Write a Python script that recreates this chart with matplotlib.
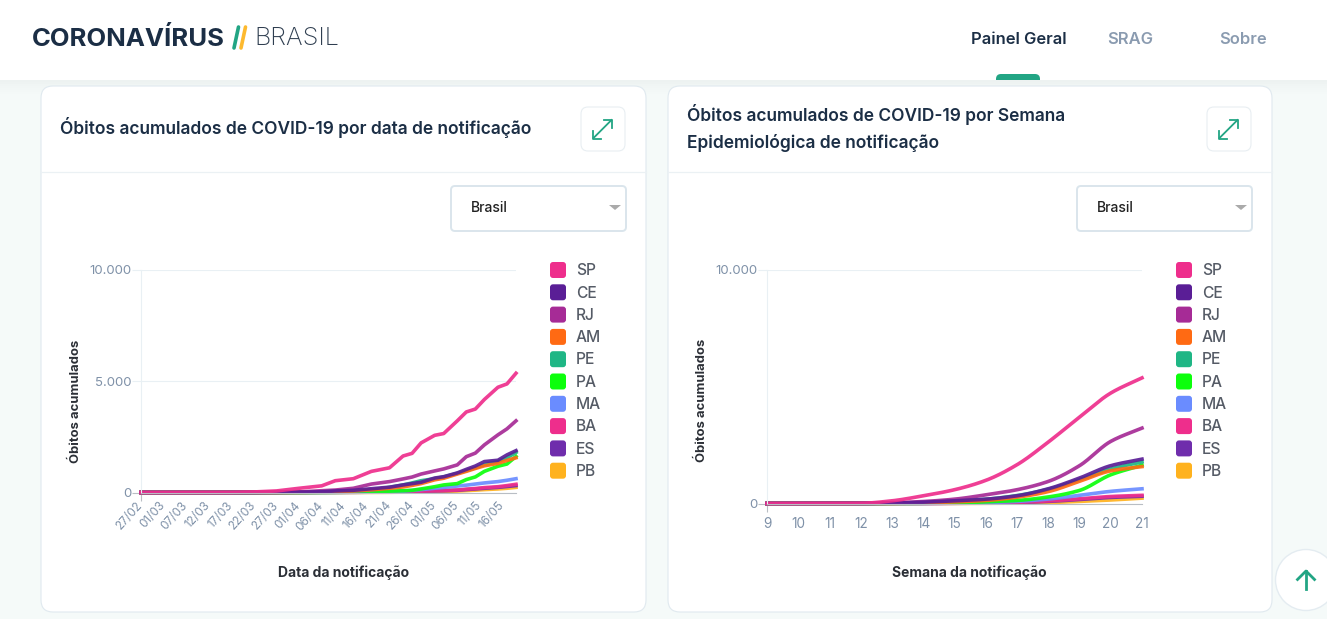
#!/usr/bin/env python3
"""Painel Coronavirus Brasil: obitos acumulados por data e por semana."""
import numpy as np
import matplotlib as mpl
mpl.use("Agg")
import matplotlib.pyplot as plt
from matplotlib.patches import FancyBboxPatch, Circle, Rectangle
from matplotlib.transforms import ScaledTranslation

mpl.rcParams.update({"font.family": ["Inter", "DejaVu Sans"], "font.size": 10})

W, H = 1327, 619

STATES = ["SP", "CE", "RJ", "AM", "PE", "PA", "MA", "BA", "ES", "PB"]
COLORS = ["#EE2E8C", "#5A1E96", "#A62B96", "#FF6A13", "#1FB685",
          "#0CFF0C", "#6A8CFF", "#EE2E8C", "#6F2DAC", "#FFB21E"]

# left chart: day index along the category axis
DAY_TICKS = ["27/02", "01/03", "07/03", "12/03", "17/03", "22/03", "27/03", "01/04", "06/04",
             "11/04", "16/04", "21/04", "26/04", "01/05", "06/05", "11/05", "16/05"]
DAY_IDX = [0, 20, 25, 30, 35, 40, 43, 47, 51, 55, 58, 60, 62, 65, 67, 70, 72, 74, 76, 79, 81, 83]
DAILY = {
    "SP": [0, 3, 25, 70, 190, 300, 530, 620, 950, 1110, 1640, 1760, 2230, 2570, 2650, 3220, 3620, 3750, 4180, 4730, 4880, 5360],
    "CE": [0, 0, 2, 8, 15, 30, 70, 100, 170, 240, 340, 400, 460, 650, 710, 880, 1040, 1190, 1390, 1450, 1690, 1880],
    "RJ": [0, 0, 2, 8, 25, 80, 110, 190, 380, 490, 610, 695, 830, 970, 1060, 1240, 1610, 1770, 2140, 2590, 2860, 3220],
    "AM": [0, 0, 0, 2, 6, 15, 40, 70, 120, 190, 250, 320, 400, 570, 640, 830, 950, 1080, 1200, 1310, 1440, 1560],
    "PE": [0, 0, 0, 2, 6, 14, 25, 40, 110, 230, 340, 430, 530, 620, 700, 860, 980, 1110, 1250, 1390, 1560, 1800],
    "PA": [0, 0, 0, 0, 1, 4, 8, 15, 35, 60, 80, 100, 160, 260, 340, 400, 580, 700, 950, 1180, 1280, 1620],
    "MA": [0, 0, 0, 0, 1, 3, 6, 10, 15, 35, 60, 90, 130, 190, 230, 290, 330, 380, 430, 490, 550, 620],
    "BA": [0, 0, 0, 2, 5, 10, 12, 15, 20, 30, 40, 50, 60, 80, 90, 110, 150, 180, 220, 260, 310, 370],
    "ES": [0, 0, 0, 1, 3, 6, 8, 10, 15, 25, 35, 45, 55, 70, 80, 100, 130, 160, 190, 230, 270, 310],
    "PB": [0, 0, 0, 0, 0, 1, 2, 3, 6, 10, 15, 20, 28, 40, 50, 65, 85, 105, 130, 160, 190, 230],
}

# right chart: epidemiological weeks
WEEKS = [9, 10, 11, 12, 13, 14, 15, 16, 17, 18, 19, 20, 21]
WEEKLY = {
    "SP": [0, 0, 0, 8, 115, 330, 590, 990, 1660, 2630, 3700, 4730, 5380],
    "CE": [0, 0, 0, 1, 15, 55, 115, 185, 330, 630, 1090, 1620, 1900],
    "RJ": [0, 0, 0, 2, 30, 85, 185, 370, 590, 945, 1620, 2660, 3230],
    "AM": [0, 0, 0, 0, 5, 30, 70, 130, 270, 510, 950, 1400, 1580],
    "PE": [0, 0, 0, 0, 8, 40, 100, 180, 340, 610, 1020, 1480, 1780],
    "PA": [0, 0, 0, 0, 2, 8, 25, 70, 130, 280, 560, 1230, 1640],
    "MA": [0, 0, 0, 0, 1, 5, 15, 40, 90, 190, 350, 520, 630],
    "BA": [0, 0, 0, 0, 1, 5, 10, 20, 50, 110, 200, 300, 350],
    "ES": [0, 0, 0, 0, 1, 3, 8, 15, 40, 90, 170, 260, 310],
    "PB": [0, 0, 0, 0, 0, 1, 4, 8, 15, 40, 90, 150, 230],
}

INK = "#1B2E45"
MUTED = "#8A9BB0"
TICK_TXT = "#7F91A8"
GREEN = "#22A584"
BORDER = "#E0E9EF"
GRID = "#E9F0F4"


def monotone(x, y, per=24):
    # monotone cubic, same idea as the d3 curve the dashboard uses
    x, y = np.asarray(x, float), np.asarray(y, float)
    h = np.diff(x)
    s = np.diff(y) / h
    m = np.zeros_like(y)
    m[0], m[-1] = s[0], s[-1]
    for i in range(1, len(x) - 1):
        if s[i - 1] * s[i] > 0:
            m[i] = 2 * s[i - 1] * s[i] / (s[i - 1] + s[i])
    xs, ys = [], []
    for i in range(len(h)):
        t = np.linspace(0, 1, per)
        xs.append(x[i] + t * h[i])
        ys.append((2*t**3 - 3*t**2 + 1) * y[i] + (t**3 - 2*t**2 + t) * h[i] * m[i]
                  + (-2*t**3 + 3*t**2) * y[i + 1] + (t**3 - t**2) * h[i] * m[i + 1])
    return np.concatenate(xs), np.concatenate(ys)


def px_axes(fig, x0, x1, y_top, y_bot):
    return fig.add_axes([x0 / W, 1 - y_bot / H, (x1 - x0) / W, (y_bot - y_top) / H])


def round_box(bg, x0, y0, x1, y1, r, fc="white", ec=BORDER, lw=0.8, z=1):
    p = FancyBboxPatch((x0 + r, y0 + r), x1 - x0 - 2 * r, y1 - y0 - 2 * r,
                       boxstyle=f"round,pad={r},rounding_size={r}",
                       fc=fc, ec=ec, lw=lw, zorder=z)
    bg.add_patch(p)
    return p


def card(bg, x0, x1, title, legend_x):
    round_box(bg, x0, 86, x1, 612, 12, ec=BORDER, z=2)
    bg.plot([x0, x1], [171.5, 171.5], color="#EBF1F4", lw=0.9, zorder=3)
    bx = x1 - 65
    round_box(bg, bx, 107, bx + 44, 151, 7, fc="white", ec="#E8EEF2", z=3)
    cx, cy = bx + 21.5, 129
    bg.plot([cx - 9, cx + 9], [cy + 9, cy - 9], color=GREEN, lw=1.3, zorder=4)
    bg.plot([cx + 1.5, cx + 9.5, cx + 9.5], [cy - 9.5, cy - 9.5, cy - 1.5], color=GREEN, lw=1.3, zorder=4)
    bg.plot([cx - 9.5, cx - 9.5, cx - 1.5], [cy + 1.5, cy + 9.5, cy + 9.5], color=GREEN, lw=1.3, zorder=4)
    bg.text(x0 + 19, 128, "\n".join(title), color=INK, fontsize=12.5,
            fontweight="semibold", va="center", ha="left", linespacing=1.6, zorder=4)
    # dropdown
    sx = x1 - 195
    round_box(bg, sx, 186, sx + 175, 231, 4, ec="#DAE5EC", lw=1.4, z=3)
    bg.text(sx + 19.5, 207.5, "Brasil", fontsize=10, color="#222222", fontweight="medium",
            va="center", ha="left", zorder=4)
    bg.fill([sx + 158, sx + 170, sx + 164], [205, 205, 210], color="#AAAAAA", zorder=4, lw=0)
    # legend
    for i, (st, col) in enumerate(zip(STATES, COLORS)):
        yc = 270 + i * 22.3
        round_box(bg, legend_x, yc - 8, legend_x + 16, yc + 8, 3, fc=col, ec="none", lw=0, z=4)
        bg.text(legend_x + 26, yc + 0.8, st, fontsize=11.2, color="#555B66", fontweight="medium",
                va="center", ha="left", zorder=4)


def style_axes(ax):
    ax.set_facecolor("none")
    for side in ["top", "right"]:
        ax.spines[side].set_visible(False)
    ax.spines["left"].set_color(GRID)
    ax.spines["bottom"].set_color("#B9BEC4")
    ax.tick_params(axis="x", length=0, labelcolor=TICK_TXT, labelsize=10)
    ax.tick_params(axis="y", color=GRID, labelcolor=TICK_TXT, length=6.5, width=0.8, labelsize=9.5, pad=0)
    ax.grid(axis="y", color=GRID, lw=0.8)
    ax.set_axisbelow(True)


def mark_origin(ax):
    # only the first category and the zero line carry a visible tick
    xt = ax.xaxis.get_major_ticks()[0].tick1line
    xt.set_markersize(6)
    xt.set_markeredgecolor("#B9BEC4")
    xt.set_markeredgewidth(0.8)
    ax.yaxis.get_major_ticks()[0].tick1line.set_markeredgecolor("#B9BEC4")


fig = plt.figure(figsize=(W / 100, H / 100), dpi=100, facecolor="#F5FAF9")
bg = fig.add_axes([0, 0, 1, 1])
bg.set_xlim(0, W)
bg.set_ylim(H, 0)
bg.axis("off")

# page header, with a shadow fading out under it
for k, shade in enumerate(["#EDF2F1", "#EEF3F2", "#F0F5F4", "#F1F6F5", "#F2F7F6", "#F3F8F7", "#F4F9F8"]):
    bg.add_patch(Rectangle((0, 80 + k * 2), W, 2, fc=shade, ec="none", zorder=0))
bg.add_patch(Rectangle((0, 0), W, 80, fc="white", ec="none", zorder=5))
bg.text(32, 38.5, "CORONAVÍRUS", fontsize=18.5, fontweight="bold", color=INK, va="center", zorder=6)
bg.plot([234, 238.5], [48, 27], color=GREEN, lw=2.6, zorder=6, solid_capstyle="round")
bg.plot([241, 245.5], [48, 27], color="#FDB92E", lw=2.6, zorder=6, solid_capstyle="round")
bg.text(254, 38.5, "BRASIL", fontsize=18.2, fontweight="light", color="#2F3E50", va="center", zorder=6)
bg.text(971, 39.5, "Painel Geral", fontsize=11.9, fontweight="semibold", color=INK, va="center", zorder=6)
bg.text(1107, 39.5, "SRAG", fontsize=11.9, fontweight="semibold", color=MUTED, va="center", zorder=6)
bg.text(1219, 39.5, "Sobre", fontsize=11.9, fontweight="semibold", color=MUTED, va="center", zorder=6)
tab = round_box(bg, 996, 74, 1040, 90, 5, fc=GREEN, ec="none", lw=0, z=5.5)
tab.set_clip_path(Rectangle((990, 70), 56, 10, transform=bg.transData))

card(bg, 41, 646, ["Óbitos acumulados de COVID-19 por data de notificação"], 550)
card(bg, 668, 1272, ["Óbitos acumulados de COVID-19 por Semana", "Epidemiológica de notificação"], 1176)

# scroll to top button
bg.add_patch(Circle((1306, 580), 30.5, fc="white", ec="#E4ECF1", lw=1, zorder=6))
bg.plot([1306, 1306], [571, 589], color=GREEN, lw=2, zorder=7)
bg.plot([1297.5, 1306, 1314.5], [579.5, 571, 579.5], color=GREEN, lw=2, zorder=7)

# left chart
ax1 = px_axes(fig, 141, 516, 270, 492.5)
style_axes(ax1)
for st, col in reversed(list(zip(STATES, COLORS))):
    ax1.plot(DAY_IDX, DAILY[st], color=col, lw=2.6, alpha=0.92, clip_on=False, solid_joinstyle="round")
ax1.set_xlim(0, 83)
ax1.set_ylim(0, 10000)
ax1.set_yticks([0, 5000, 10000], ["0", "5.000", "10.000"])
ax1.set_xticks(range(0, 5 * len(DAY_TICKS), 5))
ax1.set_xticklabels(DAY_TICKS, rotation=48, ha="right", rotation_mode="anchor", fontsize=8.5)
ax1.tick_params(axis="x", pad=5)
nudge = ScaledTranslation(-5 / 100, 0, fig.dpi_scale_trans)
for lab in ax1.get_xticklabels():
    lab.set_transform(lab.get_transform() + nudge)
mark_origin(ax1)
ax1.set_ylabel("Óbitos acumulados", fontsize=9.4, fontweight="bold", color="#2B2F36", labelpad=0)
ax1.yaxis.set_label_coords(-0.157, 0.41)
ax1.set_xlabel("Data da notificação", fontsize=10, fontweight="bold", color="#2B2F36")
ax1.xaxis.set_label_coords(0.54, -0.327)

# right chart
ax2 = px_axes(fig, 767, 1142, 270, 503.5)
style_axes(ax2)
for st, col in reversed(list(zip(STATES, COLORS))):
    xs, ys = monotone(WEEKS, WEEKLY[st])
    ax2.plot(xs, ys, color=col, lw=2.6, alpha=0.92, clip_on=False, solid_joinstyle="round")
ax2.set_xlim(9, 21)
ax2.set_ylim(0, 10000)
ax2.set_yticks([0, 10000], ["0", "10.000"])
ax2.set_xticks(WEEKS)
ax2.tick_params(axis="x", pad=10, labelsize=9.8)
mark_origin(ax2)
ax2.set_ylabel("Óbitos acumulados", fontsize=9.4, fontweight="bold", color="#2B2F36", labelpad=0)
ax2.yaxis.set_label_coords(-0.157, 0.44)
ax2.set_xlabel("Semana da notificação", fontsize=10, fontweight="bold", color="#2B2F36")
ax2.xaxis.set_label_coords(0.54, -0.264)

fig.savefig("out.png", dpi=100, facecolor=fig.get_facecolor())
